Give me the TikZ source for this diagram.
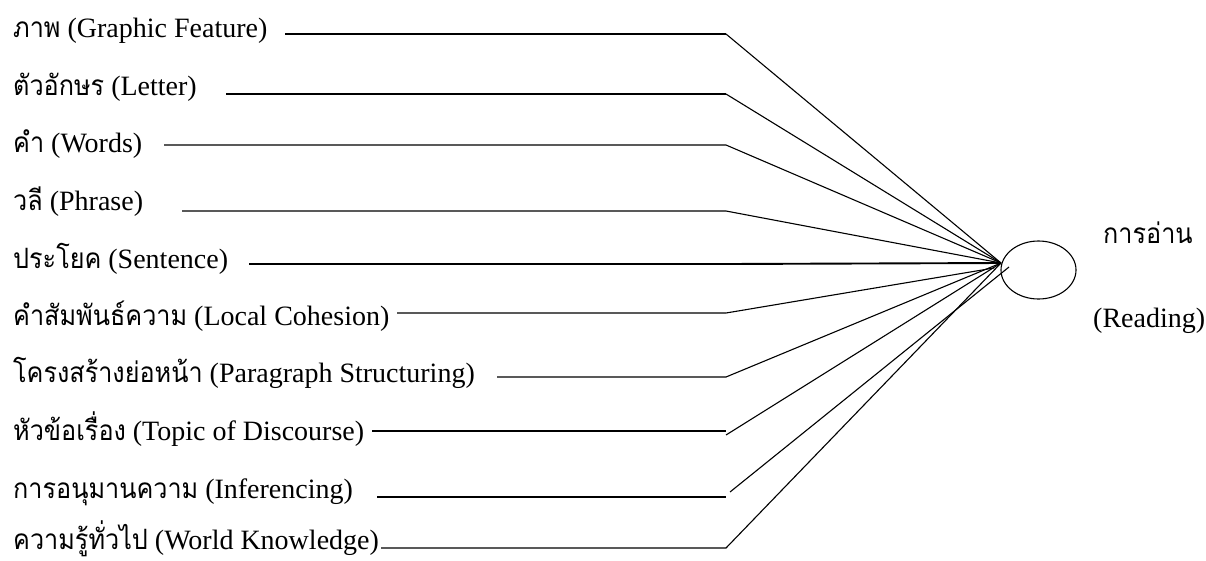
\documentclass[tikz,border=0pt]{standalone}
\usepackage{fontspec}
\setmainfont{Liberation Serif}
\newfontfamily\thaifont[Script=Thai,Scale=1.0,FakeStretch=0.9]{Loma}
\usetikzlibrary{shapes.geometric}
\newcommand{\thai}[1]{{\thaifont #1}}

\begin{document}
\begin{tikzpicture}[x=1pt,y=-1pt,
        lbl/.style={anchor=base west, inner sep=0pt, font=\fontsize{28}{30}\selectfont},
        ln/.style={line width=1.1pt},
        thk/.style={line width=1.9pt}]
        \useasboundingbox (0,0) rectangle (1206,560);
        % reading circle and its two texts
        \node[ellipse, draw, line width=1.1pt, minimum width=75pt, minimum height=58pt, inner sep=0pt] (read) at (1038.5,270) {};
        \node[lbl] (readth) at (1103,243) {\thai{การอ่าน}};
        \node[lbl] (readen) at (1093,327) {(Reading)};
        \coordinate (hub) at (1001,263);
        % left labels
        \node[lbl] (l1) at (13,37) {\thai{ภาพ} (Graphic Feature)};
        \node[lbl] (l2) at (13,95) {\thai{ตัวอักษร} (Letter)};
        \node[lbl] (l3) at (13,152) {\thai{คำ} (Words)};
        \node[lbl] (l4) at (13,210) {\thai{วลี} (Phrase)};
        \node[lbl] (l5) at (13,268) {\thai{ประโยค} (Sentence)};
        \node[lbl] (l6) at (13,325) {\thai{คำสัมพันธ์ความ} (Local Cohesion)};
        \node[lbl] (l7) at (13,382) {\thai{โครงสร้างย่อหน้า} (Paragraph Structuring)};
        \node[lbl] (l8) at (13,440) {\thai{หัวข้อเรื่อง} (Topic of Discourse)};
        \node[lbl] (l9) at (13,498) {\thai{การอนุมานความ} (Inferencing)};
        \node[lbl] (l10) at (13,549) {\thai{ความรู้ทั่วไป} (World Knowledge)};
        % line starts and bends
        \coordinate (s1) at (285,34);  \coordinate (b1) at (726,34);
        \coordinate (s2) at (226,94);  \coordinate (b2) at (726,94);
        \coordinate (s3) at (164,145); \coordinate (b3) at (726,145);
        \coordinate (s4) at (182,211); \coordinate (b4) at (726,211);
        \coordinate (s5) at (249,264); \coordinate (b5) at (726,264);
        \coordinate (s6) at (397,313); \coordinate (b6) at (726,313);
        \coordinate (s7) at (497,377); \coordinate (b7) at (726,377);
        \coordinate (s8) at (372,431); \coordinate (b8) at (726,431);
        \coordinate (s9) at (377,497); \coordinate (b9) at (726,497);
        \coordinate (s10) at (381,548); \coordinate (b10) at (726,548);
        % connectors
        \draw[thk] (s1) -- (b1);
        \draw[ln] (b1) -- (hub);
        \draw[thk] (s2) -- (b2);
        \draw[ln] (b2) -- (hub);
        \draw[ln] (s3) -- (b3) -- (hub);
        \draw[ln] (s4) -- (b4) -- (hub);
        \draw[thk] (s5) -- (b5) -- (hub);
        \draw[ln] (s6) -- (b6) -- (994,268);
        \draw[ln] (s7) -- (b7) -- (hub);
        \draw[thk] (s8) -- (b8);
        \draw[ln] (726,435) -- (hub);
        \draw[ln] (s9) -- (b9);
        \draw[ln] (730,492) -- (1009,267);
        \draw[ln] (s10) -- (b10) -- (hub);
\end{tikzpicture}
\end{document}
